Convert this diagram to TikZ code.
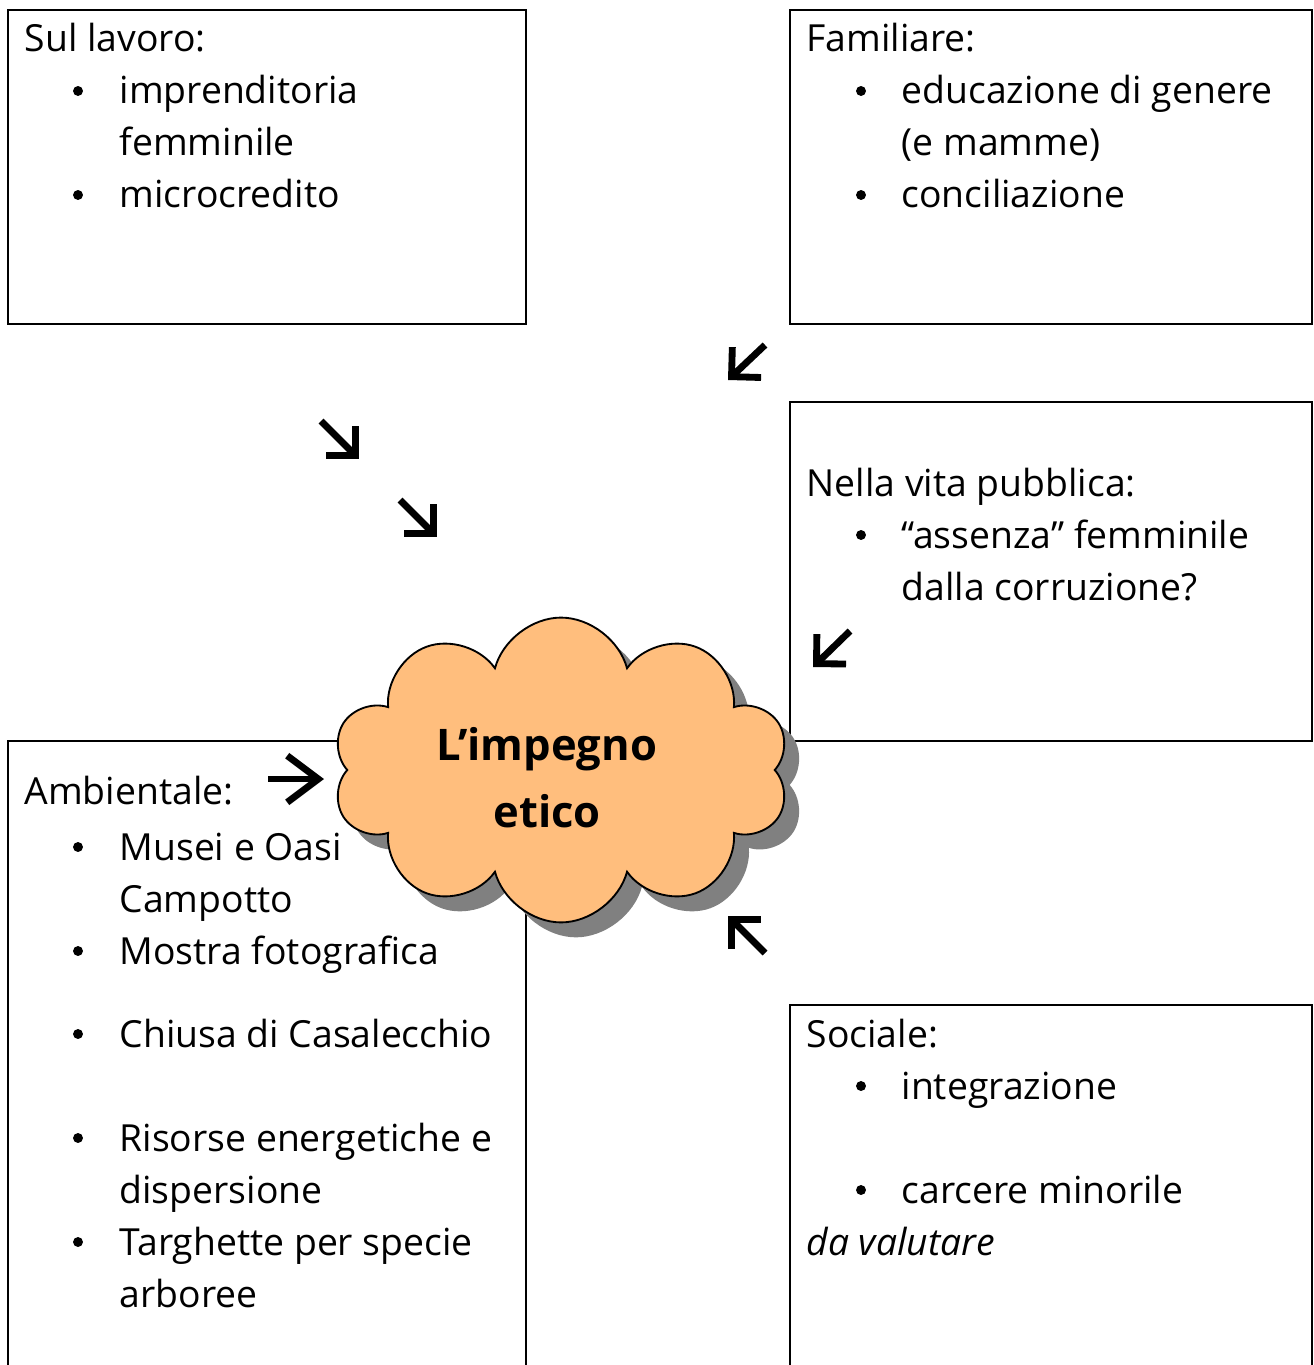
\documentclass[tikz,border=0pt]{standalone}
\usepackage{fontspec}
\setmainfont{Open Sans}
\usetikzlibrary{shapes.symbols,arrows.meta,shadows}
\definecolor{cloudfill}{RGB}{255,190,125}
\definecolor{cloudshade}{RGB}{128,128,128}
\begin{document}
\begin{tikzpicture}[x=0.3215pt,y=-0.3215pt,
		box/.style={draw,line width=0.6pt},
		txt/.style={anchor=base west,inner sep=0pt,font=\fontsize{12}{14}\selectfont},
		glyph/.style={line width=2.2pt,-{Straight Barb[angle=90:9.5pt]}},
		glyphh/.style={line width=2.2pt,-{Straight Barb[length=10pt,width=15pt]}}]
	\useasboundingbox (0,0) rectangle (1313,1365);
	% riquadri
	\draw[box] (8,10) rectangle (526,324);
	\draw[box] (790,10) rectangle (1312,324);
	\draw[box] (790,402) rectangle (1312,741);
	\draw[box] (8,1366)--(8,741)--(526,741)--(526,1366);
	\draw[box] (790,1366)--(790,1005)--(1312,1005)--(1312,1366);
	% titoli
	\node[txt] (lavoro) at (24,52) {Sul lavoro:};
	\node[txt] (familiare) at (806,52) {Familiare:};
	\node[txt] (pubblica) at (806,496) {Nella vita pubblica:};
	\node[txt] (ambiente) at (24,804) {Ambientale:};
	\node[txt] (sociale) at (806,1047) {Sociale:};
	% voci
	\foreach \n/\x/\y/\t in {l1/119/104/imprenditoria, l2/119/156/femminile, l3/119/208/microcredito,
		f1/901/104/educazione di genere, f2/901/156/(e mamme), f3/901/208/conciliazione,
		p1/901/548/“assenza” femminile, p2/901/600/dalla corruzione?,
		a1/119/860/Musei e Oasi, a2/119/912/Campotto, a3/119/964/Mostra fotografica,
		a4/119/1047/Chiusa di Casalecchio, a5/119/1151/Risorse energetiche e, a6/119/1203/dispersione,
		a7/119/1255/Targhette per specie, a8/119/1307/arboree,
		s1/901/1099/integrazione, s2/901/1203/carcere minorile}
		\node[txt] (\n) at (\x,\y) {\t};
	\node[txt,font=\fontsize{12}{14}\selectfont\itshape] (valutare) at (806,1255) {da valutare};
	% pallini
	\foreach \x/\y in {78/91, 78/195, 861/91, 861/195, 861/535, 78/847, 78/951, 78/1034,
		78/1138, 78/1242, 861/1086, 861/1190}
		\fill (\x,\y) circle (1.6pt);
	% frecce
	\foreach \n/\xa/\ya/\xb/\yb in {lav1/321/421/359/459, lav2/400/500/437/537, fam/765/345/728/380,
		pub/850/631/813/667, soc/765/953/728/916}{
		\coordinate (\n-s) at (\xa,\ya);
		\coordinate (\n-e) at (\xb,\yb);
		\draw[glyph] (\n-s)--(\n-e);
	}
	\coordinate (amb-s) at (268,779);
	\coordinate (amb-e) at (324,779);
	\draw[glyphh] (amb-s)--(amb-e);
	% nuvola
	\node[cloud,cloud puffs=10,aspect=1.5,draw,line width=0.6pt,fill=cloudfill,
		minimum width=147pt,minimum height=98pt,
		drop shadow={shadow xshift=4.8pt,shadow yshift=-4.8pt,fill=cloudshade,opacity=1}] (nuvola) at (561,770) {};
	\node[align=center,font=\bfseries\fontsize{14}{21.5}\selectfont] (impegno) at (547,778) {L’impegno\\etico};
\end{tikzpicture}
\end{document}
